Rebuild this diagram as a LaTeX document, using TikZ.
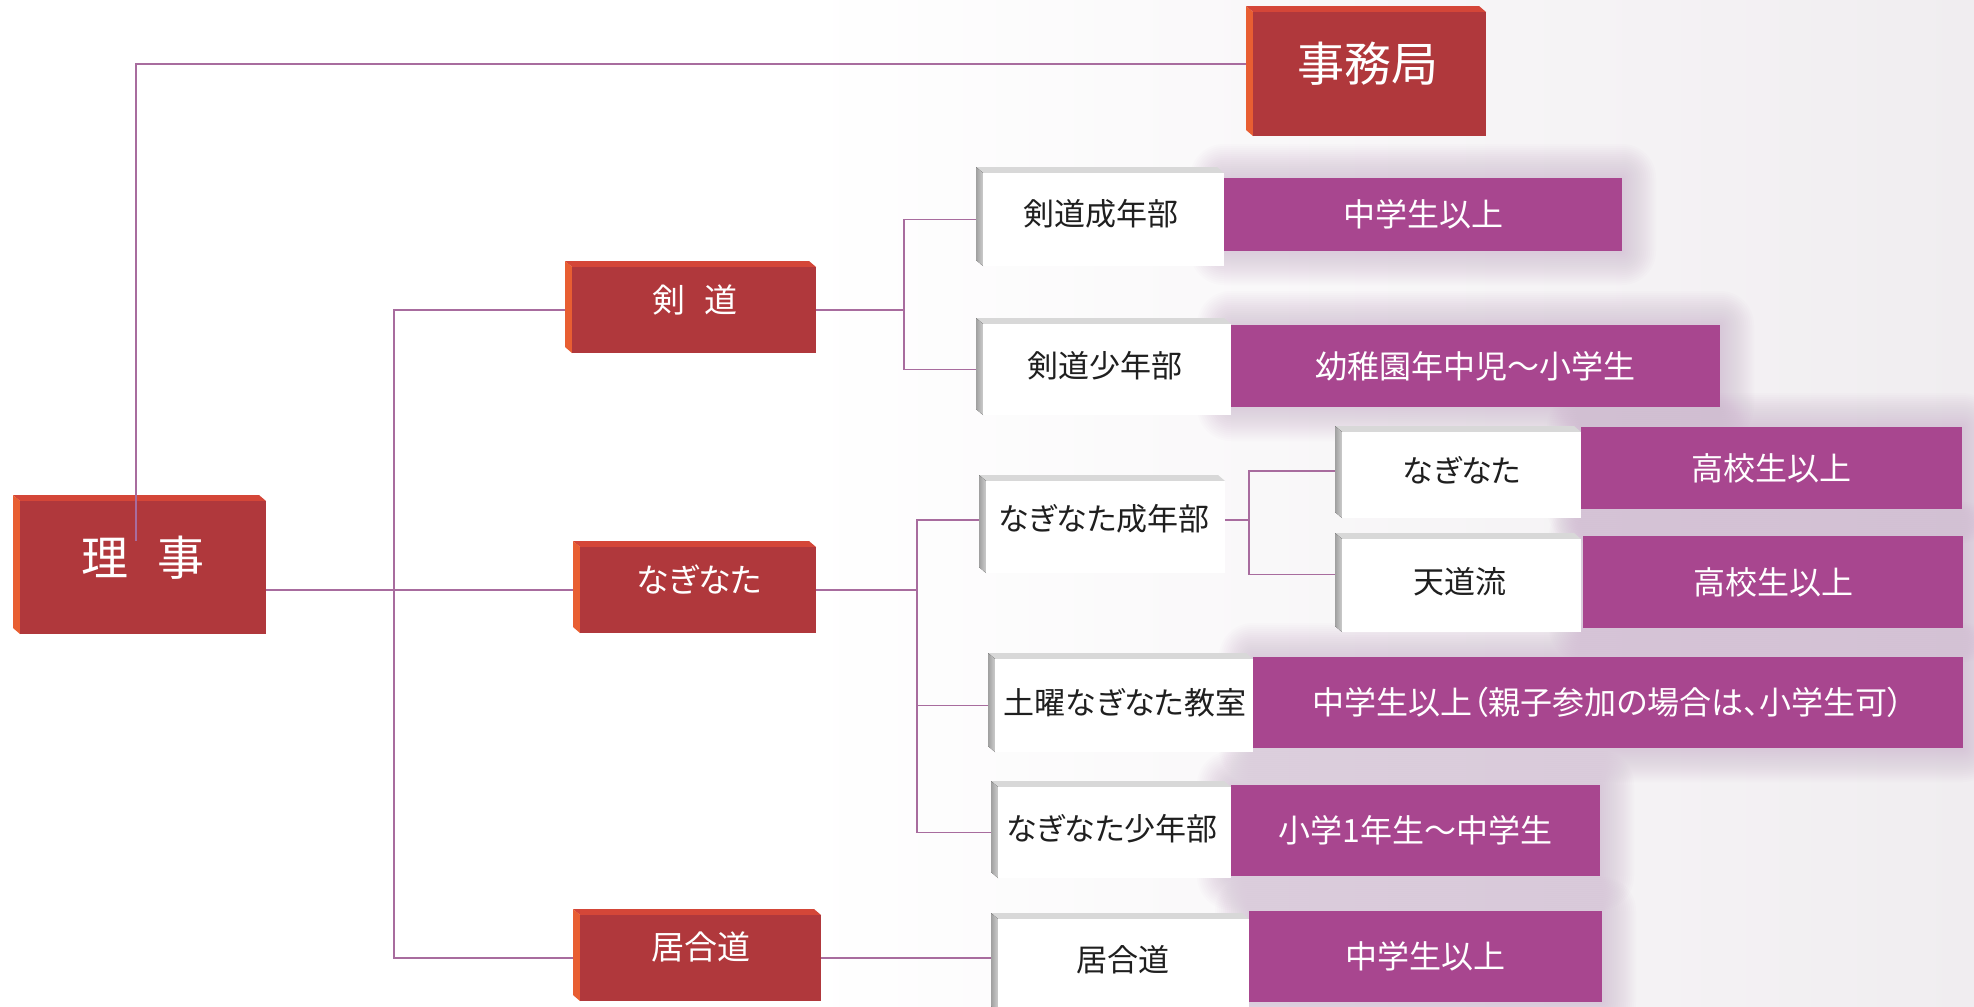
\documentclass[tikz,border=0pt]{standalone}
\usepackage{fontspec}
\newfontfamily\jp[RawFeature=+palt]{Noto Sans CJK JP}
\usetikzlibrary{calc}
\pgfdeclarelayer{back}
\pgfdeclarelayer{lines}
\pgfsetlayers{back,lines,main}
\definecolor{redfrontc}{RGB}{176,56,60}
\definecolor{redtopc}{RGB}{212,70,56}
\definecolor{redleftc}{RGB}{232,94,50}
\definecolor{wtopc}{RGB}{216,216,216}
\definecolor{wleftc}{RGB}{160,160,160}
\definecolor{wleftc2}{RGB}{205,205,205}
\definecolor{purpc}{RGB}{168,70,143}
\definecolor{linec}{RGB}{168,108,158}
\definecolor{haloc}{RGB}{196,168,198}
\definecolor{bgc}{RGB}{240,237,240}
\tikzset{
  front/.style={inner sep=0pt, outer sep=0pt, anchor=center},
  redf/.style={front, fill=redfrontc},
  redtop/.style={fill=redtopc},
  redleft/.style={fill=redleftc},
  whitef/.style={front, fill=white},
  whitetop/.style={fill=wtopc},
  whiteleft/.style={left color=wleftc, right color=wleftc2},
  purpf/.style={front, fill=purpc},
  bigtxt/.style={font=\jp\fontsize{47}{52}\selectfont, text=white, inner sep=0pt},
  redtxt/.style={font=\jp\fontsize{33}{36}\selectfont, text=white, inner sep=0pt},
  wtxt/.style={font=\jp\fontsize{31}{35}\selectfont, text=black!88, inner sep=0pt},
  ptxt/.style={font=\jp\fontsize{32}{36}\selectfont, text=white},
  conn/.style={draw=linec, line width=1.2pt},
  halo/.style={fill=haloc, opacity=0.035},
}
% #1 name, #2 x0, #3 y0, #4 x1, #5 y1, #6 kind (red / white)
\newcommand\solidbox[6]{%
  \fill[#6top] (#2,#3) -- (#4-7,#3) -- (#4,#3+6) -- (#2+7,#3+6) -- cycle;
  \fill[#6left] (#2,#3) -- (#2+7,#3+6) -- (#2+7,#5) -- (#2,#5-6) -- cycle;
  \node[#6f, minimum width={(#4-#2-7)*1pt}, minimum height={(#5-#3-6)*1pt}] (#1) at ({(#2+7+#4)/2},{(#3+6+#5)/2}) {};
}
% #1 name, #2 x0, #3 y0, #4 x1, #5 y1, #6 text
\newcommand\purpbox[6]{%
  \node[purpf, ptxt, minimum width={(#4-#2)*1pt}, minimum height={(#5-#3)*1pt}] (#1) at ({(#2+#4)/2},{(#3+#5)/2}) {#6};
  \begin{pgfonlayer}{back}
    \foreach \r in {2,4,...,34} {
      \fill[halo, rounded corners=\r pt] ([shift={(-\r pt,\r pt)}]#1.north west) rectangle ([shift={(\r pt,-\r pt)}]#1.south east);
    }
  \end{pgfonlayer}
}
\begin{document}
\begin{tikzpicture}[x=1pt, y=-1pt]
\useasboundingbox (0,0) rectangle (1974,1007);
\begin{pgfonlayer}{back}
  \fill[white] (0,0) rectangle (1974,1007);
  \shade[left color=white, right color=bgc] (800,0) rectangle (1974,1007);
\end{pgfonlayer}

% red boxes
\solidbox{riji}{13}{495}{266}{634}{red}
\node[bigtxt] (riji-t) at (143,558) {理\hspace{29pt}事};
\solidbox{jimu}{1246}{6}{1486}{136}{red}
\node[bigtxt] (jimu-t) at (1368,64) {事務局};
\solidbox{kendo}{565}{261}{816}{353}{red}
\node[redtxt] (kendo-t) at (695,300) {剣\hspace{19pt}道};
\solidbox{naginata}{573}{541}{816}{633}{red}
\node[redtxt] (naginata-t) at (699,579) {なぎなた};
\solidbox{iai}{573}{909}{821}{1001}{red}
\node[redtxt] (iai-t) at (701,947) {居合道};

% purple boxes (drawn before the white ones so that halos sit behind)
\purpbox{p1}{1224}{178}{1622}{251}{中学生以上}
\purpbox{p2}{1231}{325}{1720}{407}{幼稚園年中児～小学生}
\purpbox{p3}{1581}{427}{1962}{509}{高校生以上}
\purpbox{p4}{1583}{536}{1963}{628}{高校生以上}
\purpbox{p5}{1253}{657}{1963}{748}{中学生以上（親子参加の場合は、小学生可）}
\purpbox{p6}{1231}{785}{1600}{876}{小学1年生～中学生}
\purpbox{p7}{1249}{911}{1602}{1002}{中学生以上}

% white boxes
\solidbox{kseinen}{976}{167}{1224}{266}{white}
\node[wtxt] (kseinen-t) at (1101,214) {剣道成年部};
\solidbox{kshonen}{976}{318}{1231}{415}{white}
\node[wtxt] (kshonen-t) at (1105,366) {剣道少年部};
\solidbox{nseinen}{979}{475}{1225}{573}{white}
\node[wtxt] (nseinen-t) at (1104,519) {なぎなた成年部};
\solidbox{nnaginata}{1335}{426}{1581}{518}{white}
\node[wtxt] (nnaginata-t) at (1462,470) {なぎなた};
\solidbox{tendo}{1335}{533}{1581}{632}{white}
\node[wtxt] (tendo-t) at (1460,582) {天道流};
\solidbox{doyo}{988}{653}{1253}{752}{white}
\node[wtxt] (doyo-t) at (1125,703) {土曜なぎなた教室};
\solidbox{nshonen}{991}{781}{1231}{878}{white}
\node[wtxt] (nshonen-t) at (1112,829) {なぎなた少年部};
\solidbox{iaiw}{991}{913}{1249}{1012}{white}
\node[wtxt] (iaiw-t) at (1123,960) {居合道};

% connectors
\coordinate (tx) at (394,0);
\coordinate (kx) at (904,0);
\coordinate (nx) at (917,0);
\coordinate (sx) at (1249,0);
\coordinate (ns) at ([yshift=7pt]nseinen.west);
\coordinate (ne) at ([yshift=7pt]nseinen.east);
\coordinate (nn) at ([yshift=4pt]nnaginata.west);
\coordinate (tw) at ([yshift=11pt]tendo.west);
\begin{pgfonlayer}{lines}
  \draw[conn] (riji.east |- naginata.west) -- (naginata.west);
  \draw[conn] (kendo.west) -- (kendo.west -| tx) -- (iai.west -| tx) -- (iai.west);
  \draw[conn] (kendo.east) -- (kendo.east -| kx);
  \draw[conn] (kseinen.west) -- (kseinen.west -| kx) -- (kshonen.west -| kx) -- (kshonen.west);
  \draw[conn] (naginata.east) -- (naginata.east -| nx);
  \draw[conn] (ns) -- (ns -| nx) -- (nshonen.west -| nx) -- (nshonen.west);
  \draw[conn] (doyo.west -| nx) -- (doyo.west);
  \draw[conn] (ne) -- (ne -| sx);
  \draw[conn] (nn) -- (nn -| sx) -- (tw -| sx) -- (tw);
  \draw[conn] (iai.east) -- (iai.east -| iaiw.west);
\end{pgfonlayer}
\coordinate (tl) at (136,64);
\coordinate (tlend) at (136,541);
\coordinate (jw) at ([xshift=-7pt]jimu.west);
\draw[conn] (jw |- tl) -- (tl) -- (tlend);
\end{tikzpicture}
\end{document}
